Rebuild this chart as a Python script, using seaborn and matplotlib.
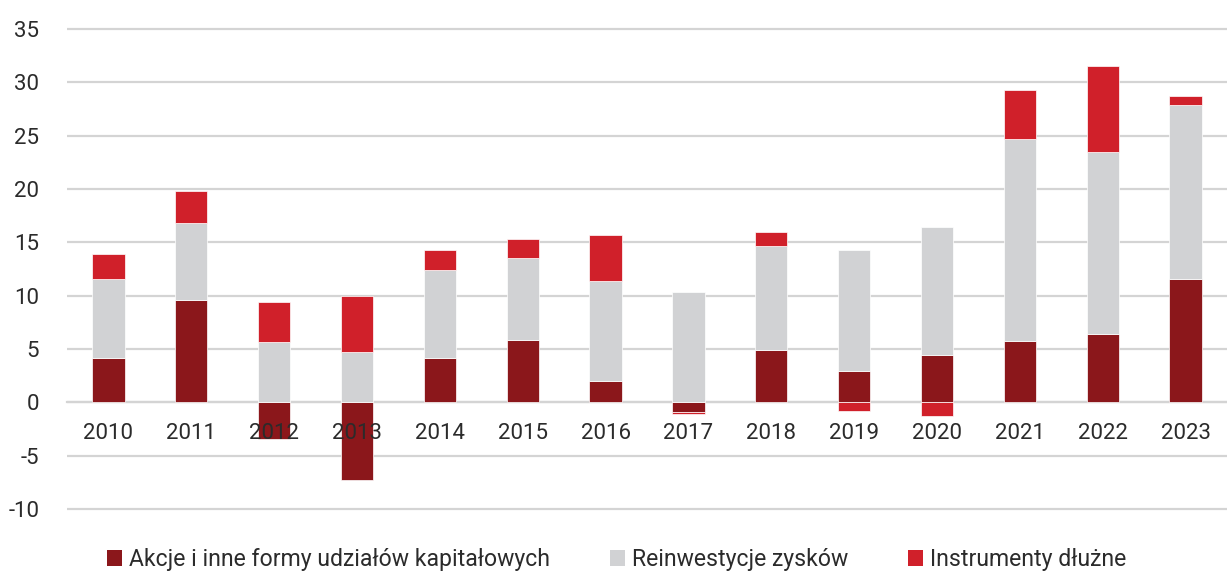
import numpy as np
import pandas as pd
import matplotlib
matplotlib.use('Agg')
import matplotlib.pyplot as plt
from matplotlib.patches import Patch
import seaborn as sns

# data (mld EUR)
years = ['2010', '2011', '2012', '2013', '2014', '2015', '2016',
         '2017', '2018', '2019', '2020', '2021', '2022', '2023']
akcje = [4.2, 9.6, -3.4, -7.3, 4.2, 5.8, 2.0, -0.9, 4.9, 2.9, 4.4, 5.75, 6.4, 11.6]
reinwestycje = [7.4, 7.2, 5.7, 4.7, 8.25, 7.7, 9.4, 10.3, 9.8, 11.35, 12.0, 18.9, 17.05, 16.3]
instrumenty = [2.3, 3.0, 3.7, 5.3, 1.8, 1.8, 4.3, -0.2, 1.3, -0.8, -1.25, 4.6, 8.05, 0.8]
labels = ['Akcje i inne formy udziałów kapitałowych', 'Reinwestycje zysków', 'Instrumenty dłużne']
colors = ['#8b171b', '#d1d2d4', '#d0202a']

sns.set_theme(style='white')
plt.rcParams['font.family'] = ['Roboto', 'DejaVu Sans']

a = np.array(akcje)
r = np.array(reinwestycje)
d = np.array(instrumenty)

# stacking: positives build up from 0, negatives build down from 0
a_pos = np.clip(a, 0, None)
a_neg = np.clip(a, None, 0)
r_base = np.where(r >= 0, a_pos, a_neg)
d_base = np.where(d >= 0, a_pos + np.clip(r, 0, None), a_neg + np.clip(r, None, 0))

df = pd.DataFrame({'year': years, 'a': a, 'r': r, 'd': d})

fig = plt.figure(figsize=(12.27, 5.74), dpi=100)
ax = fig.add_axes([67 / 1227, 1 - 511.1 / 574, 1 - 67 / 1227, (511.1 - 26.9) / 574])

w = 0.39
sns.barplot(data=df, x='year', y='a', color=colors[0], width=w, ax=ax,
            edgecolor='white', linewidth=0.5, saturation=1, zorder=3)
sns.barplot(data=df, x='year', y='r', color=colors[1], width=w, ax=ax, bottom=r_base,
            edgecolor='white', linewidth=0.5, saturation=1, zorder=3)
sns.barplot(data=df, x='year', y='d', color=colors[2], width=w, ax=ax, bottom=d_base,
            edgecolor='white', linewidth=0.5, saturation=1, zorder=3)

ax.set_xlim(-0.5, (1227 - 108.5) / 83.08)
ax.set_ylim(-10.2, 35.2)
ax.set_yticks(range(-10, 36, 5))
ax.set_yticklabels([str(v) for v in range(-10, 36, 5)])
ax.yaxis.grid(True, color='#d4d4d4', linewidth=1.6)
# gridlines behind the bars, year labels on top of them
ax.yaxis.set_zorder(0.5)
ax.xaxis.set_zorder(5)

for s in ['top', 'right', 'left']:
    ax.spines[s].set_visible(False)
ax.spines['bottom'].set_position(('data', 0))
ax.spines['bottom'].set_color('#d4d4d4')
ax.spines['bottom'].set_linewidth(1.6)
ax.spines['bottom'].set_zorder(1)

ax.set_xticks(range(len(years)))
ax.set_xticks(np.arange(-0.5, len(years), 1.0), minor=True)
ax.tick_params(axis='x', which='major', length=0, pad=15, labelsize=16, labelcolor='#2b2b2b')
ax.tick_params(axis='x', which='minor', length=6, width=1.5, color='#d4d4d4', direction='out')
ax.tick_params(axis='y', length=0, pad=20, labelsize=16, labelcolor='#2b2b2b')
ax.set_xlabel('')
ax.set_ylabel('')

handles = [Patch(facecolor=c, edgecolor='none') for c in colors]
fig.legend(handles, labels, loc='center left', bbox_to_anchor=(0.080, 0.025), ncol=3,
           frameon=False, fontsize=16.6, handlelength=0.65, handleheight=0.65,
           handletextpad=0.3, columnspacing=2.6, labelcolor='#2b2b2b', borderaxespad=0)

fig.savefig('out.png', dpi=100)
